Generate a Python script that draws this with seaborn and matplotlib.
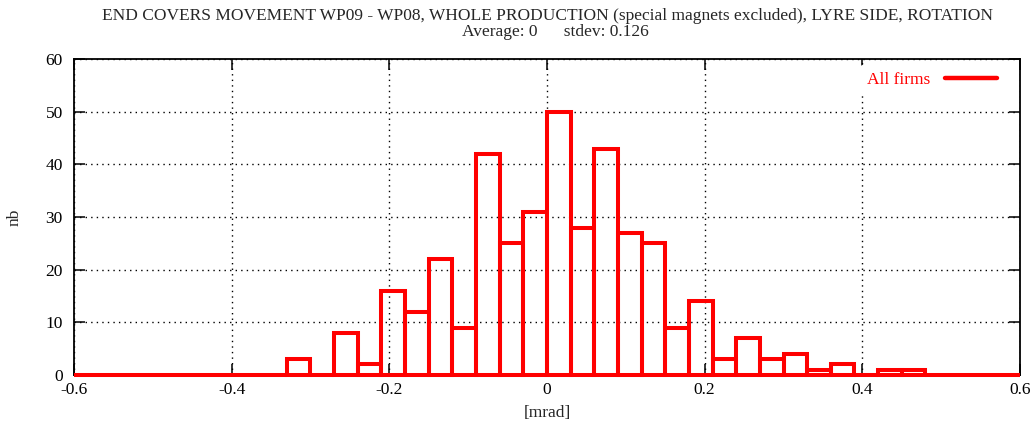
import numpy as np
import pandas as pd
import matplotlib
matplotlib.use("Agg")
import matplotlib.pyplot as plt
import seaborn as sns
from matplotlib.lines import Line2D

# Data: histogram of counts, bin width 0.03 from -0.6 to 0.6
bin_start = -0.6
bin_stop = 0.6
bin_width = 0.03
counts = [0, 0, 0, 0, 0, 0, 0, 0, 0, 3,
          0, 8, 2, 16, 12, 22, 9, 42, 25, 31,
          50, 28, 43, 27, 25, 9, 14, 3, 7, 3,
          4, 1, 2, 0, 1, 1, 0, 0, 0, 0]
bin_centers = [round(bin_start + bin_width * (i + 0.5), 4) for i in range(len(counts))]
x_ticks = [-0.6, -0.4, -0.2, 0, 0.2, 0.4, 0.6]
x_tick_labels = ["-0.6", "-0.4", "-0.2", "0", "0.2", "0.4", "0.6"]
y_ticks = [0, 10, 20, 30, 40, 50, 60]
title_line1 = "END COVERS MOVEMENT WP09 - WP08, WHOLE PRODUCTION (special magnets excluded), LYRE SIDE, ROTATION"
title_line2 = "Average: 0      stdev: 0.126"
legend_label = "All firms"

df = pd.DataFrame({"x": bin_centers, "n": counts})

sns.set_theme(style="white")
plt.rcParams["font.family"] = ["Liberation Serif", "DejaVu Serif"]
FS = 12.5

W, H = 1034, 429
fig = plt.figure(figsize=(W / 100, H / 100), dpi=100)
ax = fig.add_axes([74 / W, 1 - 375 / H, (1020 - 74) / W, (375 - 59) / H])

sns.histplot(data=df, x="x", weights="n", binwidth=bin_width,
             binrange=(bin_start, bin_stop), fill=False,
             element="bars", color="#ff0000", linewidth=2.9, ax=ax)
for p in ax.patches:
    p.set_clip_on(False)
    p.set_zorder(3)

ax.set_xlim(-0.6, 0.6)
ax.set_ylim(0, 60)
ax.set_xticks(x_ticks)
ax.set_xticklabels(x_tick_labels)
ax.set_yticks(y_ticks)
ax.grid(True, color="black", linestyle=(0, (1, 3)), linewidth=1.0)
ax.set_axisbelow(True)
ax.tick_params(direction="in", length=8, width=1.1, colors="black", labelsize=FS,
               top=True, right=True, bottom=True, left=True)
ax.tick_params(axis="x", pad=5)
ax.tick_params(axis="y", pad=8)
for s in ax.spines.values():
    s.set_color("black")
    s.set_linewidth(1.3)
    s.set_zorder(2)

ax.set_xlabel("[mrad]", fontsize=FS, labelpad=5)
ax.set_ylabel("nb", fontsize=FS, va="center", ha="center")
ax.yaxis.set_label_coords((15 - 74) / (1020 - 74), 0.5)

fig.text(547 / W, 1 - 16.5 / H, title_line1, ha="center", va="center", fontsize=FS)
fig.text(555 / W, 1 - 32.5 / H, title_line2, ha="center", va="center", fontsize=FS)

handle = Line2D([], [], color="#ff0000", linewidth=3.2)
leg = ax.legend([handle], [legend_label], loc="upper right", fontsize=FS,
                frameon=True, handlelength=3.0, handletextpad=0.86,
                borderaxespad=0, borderpad=0.4, markerfirst=False,
                bbox_to_anchor=(0.983, 0.98))
leg.get_frame().set_facecolor("white")
leg.get_frame().set_edgecolor("none")
leg.get_frame().set_alpha(1)
for t in leg.get_texts():
    t.set_color("#ff0000")

fig.savefig("out.png", dpi=100)
